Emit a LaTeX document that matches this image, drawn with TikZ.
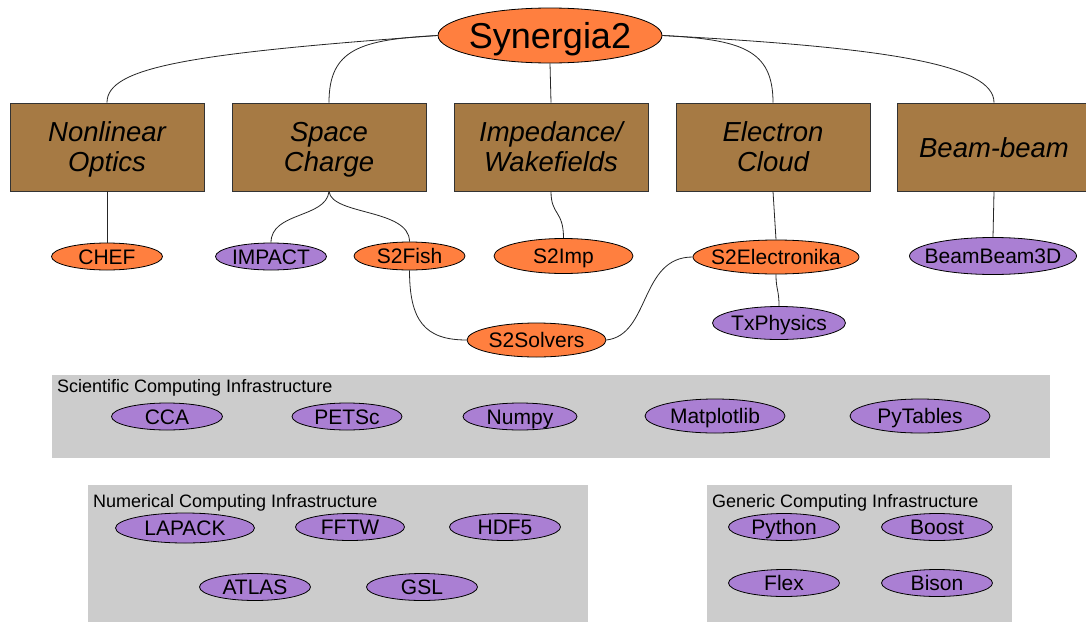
\documentclass[tikz,border=0pt]{standalone}
\usepackage{fontspec}
\setmainfont{Liberation Sans}
\usetikzlibrary{shapes.geometric}
\definecolor{orn}{RGB}{255,127,63}
\definecolor{prp}{RGB}{170,127,211}
\definecolor{brn}{RGB}{166,122,68}
\definecolor{pnl}{RGB}{204,204,204}
\tikzset{
  ell/.style={ellipse, draw=black, line width=0.8pt, inner sep=0pt},
  oell/.style={ell, fill=orn},
  pell/.style={ell, fill=prp},
  lbl/.style={font=\fontsize{21}{24}\selectfont, inner sep=0pt, text height=15pt, text depth=0pt},
  topic/.style={rectangle, draw=black!80, line width=0.9pt, fill=brn,
    minimum width=194pt, minimum height=88pt, align=center, inner sep=0pt,
    font=\fontsize{27.5}{30}\selectfont\itshape},
  twoline/.style={text height=50pt, text depth=0.6pt},
  panel/.style={fill=pnl, draw=none},
  plbl/.style={anchor=base west, inner sep=0pt, font=\fontsize{18}{20}\selectfont},
  conn/.style={draw=black!85, line width=0.8pt},
  sz/.style 2 args={minimum width=#1pt, minimum height=#2pt}
}
\begin{document}
\begin{tikzpicture}[x=1pt,y=-1pt]
\useasboundingbox (0,0) rectangle (1086,621);
\fill[white] (0,0) rectangle (1086,621);

% panels
\fill[panel] (52,375) rectangle (1050,458);
\fill[panel] (88,485) rectangle (588,625);
\fill[panel] (707,485) rectangle (1012,625);
\node[plbl] (psci) at (57,392) {Scientific Computing Infrastructure};
\node[plbl] (pnum) at (93,507) {Numerical Computing Infrastructure};
\node[plbl] (pgen) at (712,507) {Generic Computing Infrastructure};

% top
\node[oell, sz={224}{55}, label={[inner sep=0pt, text height=26pt, text depth=0pt, font=\fontsize{36}{40}\selectfont]center:Synergia2}] (syn) at (550,35.5) {};

% topic boxes
\node[topic, twoline] (nlo) at (107,147) {Nonlinear\\Optics};
\node[topic, twoline] (spc) at (329,147) {Space\\Charge};
\node[topic, twoline] (imp) at (551,147) {Impedance/\\Wakefields};
\node[topic, twoline] (elc) at (773,147) {Electron\\Cloud};
\node[topic, text height=20pt, text depth=0pt] (bbm) at (994,147) {Beam-beam};

% second row
\node[oell, sz={111}{27}, label={[lbl]center:CHEF}] (chef) at (107,256.5) {};
\node[pell, sz={111}{27}, label={[lbl]center:IMPACT}] (impact) at (271,256.5) {};
\node[oell, sz={111}{28}, label={[lbl]center:S2Fish}] (fish) at (409.5,256) {};
\node[oell, sz={139}{35}, label={[lbl]center:S2Imp}] (s2imp) at (563.5,256) {};
\node[oell, sz={166}{34}, label={[lbl]center:S2Electronika}] (s2e) at (776,257) {};
\node[pell, sz={167}{37}, label={[lbl]center:BeamBeam3D}] (bb3d) at (993,256) {};
\node[pell, sz={133}{33}, label={[lbl]center:TxPhysics}] (txp) at (779,323) {};
\node[oell, sz={139}{34}, label={[lbl]center:S2Solvers}] (solv) at (536.5,340) {};

% scientific
\node[pell, sz={111}{27}, label={[lbl]center:CCA}] (cca) at (167,416.5) {};
\node[pell, sz={110}{27}, label={[lbl]center:PETSc}] (petsc) at (347,416.5) {};
\node[pell, sz={114}{27}, label={[lbl]center:Numpy}] (numpy) at (520,416.5) {};
\node[pell, sz={140}{34}, label={[lbl]center:Matplotlib}] (mpl) at (715,416) {};
\node[pell, sz={140}{34}, label={[lbl]center:PyTables}] (pyt) at (920,416) {};

% numerical
\node[pell, sz={139}{30}, label={[lbl]center:LAPACK}] (lapack) at (185,528) {};
\node[pell, sz={109}{27}, label={[lbl]center:FFTW}] (fftw) at (350,527) {};
\node[pell, sz={111}{27}, label={[lbl]center:HDF5}] (hdf) at (505,527) {};
\node[pell, sz={111}{27}, label={[lbl]center:ATLAS}] (atlas) at (255,587) {};
\node[pell, sz={111}{27}, label={[lbl]center:GSL}] (gsl) at (422,587) {};

% generic
\node[pell, sz={111}{27}, label={[lbl]center:Python}] (python) at (784,527) {};
\node[pell, sz={111}{27}, label={[lbl]center:Boost}] (boost) at (937,527) {};
\node[pell, sz={111}{27}, label={[lbl]center:Flex}] (flex) at (784,583) {};
\node[pell, sz={111}{27}, label={[lbl]center:Bison}] (bison) at (937,583) {};

% connectors
\draw[conn] (syn.west) .. controls +(-250,18) and +(0,-35) .. (nlo.north);
\draw[conn] (syn.west) .. controls +(-78,4) and +(0,-53) .. (spc.north);
\draw[conn] (syn.south) -- (imp.north);
\draw[conn] (syn.east) .. controls +(79,4) and +(0,-53) .. (elc.north);
\draw[conn] (syn.east) .. controls +(225,12) and +(0,-38) .. (bbm.north);

\draw[conn] (nlo.south) -- (chef.north);
\draw[conn] (spc.south) .. controls +(-3,27) and +(0,-31) .. (impact.north);
\draw[conn] (spc.south) .. controls +(3,24) and +(0,-33) .. (fish.north);
\draw[conn] (imp.south) .. controls +(0,24) and +(0,-28) .. (s2imp.north);
\draw[conn] (elc.south) -- (s2e.north);
\draw[conn] (bbm.south) -- (bb3d.north);
\draw[conn] (s2e.south) .. controls +(0,16) and +(0,-17) .. (txp.north);
\draw[conn] (fish.south) .. controls +(0,50) and +(-42,0) .. (solv.west);
\draw[conn] (solv.east) .. controls +(44,-5) and +(-53,0) .. (s2e.west);
\end{tikzpicture}
\end{document}
